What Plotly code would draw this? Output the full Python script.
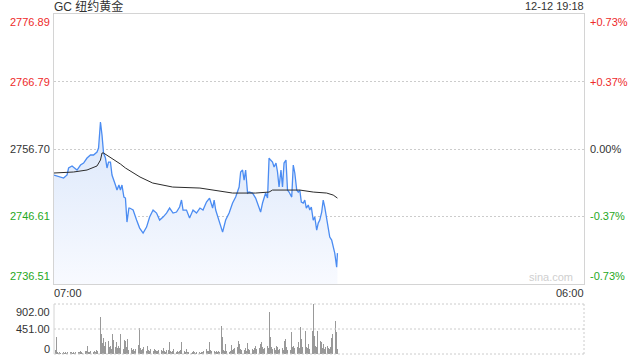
import plotly.graph_objects as go

# ---------------- data ----------------
title_text = "GC 纽约黄金"
stamp_text = "12-12 19:18"
prev_close = 2756.70
price_ticks = [2776.89, 2766.79, 2756.70, 2746.61, 2736.51]
pct_ticks = ["+0.73%", "+0.37%", "0.00%", "-0.37%", "-0.73%"]
vol_ticks = [902.00, 451.00, 0]
vol_tick_text = ["902.00", "451.00", "0"]
time_labels = ["07:00", "06:00"]
session_minutes = 1380  # 07:00 -> 06:00 next day

# price (minutes after 07:00, price)
price_min = [0, 8, 17, 25, 34, 38, 47, 60, 69, 77, 86, 95, 103, 112, 116, 121, 125, 129,
             134, 138, 142, 147, 151, 156, 160, 164, 169, 173, 177, 182, 186, 190, 195,
             197, 206, 215, 223, 232, 241, 249, 258, 267, 275, 284, 293, 301, 310, 319,
             327, 332, 336, 345, 353, 362, 371, 380, 388, 397, 405, 413, 417, 421, 430,
             439, 447, 456, 465, 473, 482, 486, 491, 495, 499, 504, 508, 517, 525, 534,
             538, 543, 551, 556, 560, 564, 569, 573, 578, 582, 586, 591, 595, 599, 604,
             608, 612, 619, 623, 627, 632, 636, 640, 644, 649, 653, 657, 662, 666, 670,
             675, 679, 684, 688, 692, 697, 701, 705, 710, 714, 718, 723, 727, 731, 736, 738]
price_val = [2752.81, 2752.66, 2752.51, 2752.36, 2752.81, 2753.86, 2754.16, 2753.56, 2754.30,
             2754.60, 2755.35, 2755.80, 2755.80, 2756.25, 2756.85, 2760.74, 2758.80, 2756.10,
             2755.35, 2753.86, 2754.75, 2754.75, 2752.81, 2751.76, 2751.31, 2750.56, 2751.31,
             2750.56, 2751.31, 2749.51, 2749.36, 2745.77, 2747.87, 2747.87, 2747.57, 2746.07,
             2744.87, 2744.13, 2745.02, 2746.52, 2747.57, 2747.12, 2746.07, 2746.52, 2747.12,
             2747.87, 2747.12, 2747.27, 2748.02, 2749.07, 2747.57, 2747.57, 2746.37, 2747.57,
             2747.12, 2747.87, 2747.57, 2748.77, 2749.36, 2747.87, 2749.07, 2747.57, 2746.07,
             2744.27, 2746.07, 2747.12, 2748.62, 2749.51, 2751.01, 2753.26, 2753.56, 2752.06,
             2753.56, 2750.11, 2750.26, 2750.11, 2749.36, 2748.02, 2747.27, 2748.62, 2750.11,
             2749.36, 2755.35, 2755.05, 2754.75, 2754.01, 2754.60, 2753.26, 2751.01, 2753.56,
             2751.01, 2754.60, 2755.05, 2750.56, 2750.26, 2749.51, 2754.30, 2753.11, 2750.56,
             2750.26, 2750.56, 2748.77, 2748.62, 2749.07, 2747.87, 2748.32, 2747.57, 2748.02,
             2746.07, 2746.52, 2744.57, 2745.62, 2746.07, 2747.27, 2749.07, 2748.02, 2746.07,
             2745.02, 2743.53, 2743.08, 2742.03, 2741.13, 2739.03, 2741.13]

# average price line
avg_min = [0, 51, 86, 112, 121, 125, 129, 142, 156, 173, 186, 208, 224, 257, 309, 380,
           432, 465, 525, 560, 569, 640, 675, 710, 727, 738]
avg_val = [2753.11, 2753.26, 2753.56, 2754.16, 2755.05, 2756.10, 2756.10, 2755.65, 2755.05,
           2754.45, 2753.86, 2753.11, 2752.51, 2751.61, 2751.01, 2750.86, 2750.41, 2750.11,
           2750.11, 2750.26, 2750.56, 2750.56, 2750.26, 2750.11, 2749.81, 2749.36]

# volume, one bar every 3 minutes from 07:00
vol_step = 3
volume = [120, 80, 300, 40, 20, 30, 15, 25, 35, 20, 30,
          25, 40, 20, 30, 45, 20, 35, 25, 30, 138,
          40, 30, 50, 35, 25, 40, 55, 60, 150, 45, 35, 50, 120, 40,
          60, 45, 70, 55, 90, 661, 360, 200, 282, 150, 210, 180, 240, 120, 150,
          90, 360, 258, 130, 222, 100, 140, 110, 360, 150, 90, 258, 240, 120, 270,
          80, 110, 100, 70, 90, 60, 85, 120, 162, 469, 110, 80, 95, 120, 70,
          60, 138, 75, 60, 90, 65, 50, 90, 70, 55, 60, 80, 240, 70, 55,
          100, 60, 45, 70, 80, 210, 60, 45, 55, 90, 50, 40, 60, 35, 50,
          70, 222, 120, 50, 40, 90, 45, 30, 40, 25, 35, 60, 30, 20, 35,
          25, 42, 20, 30, 45, 60, 70, 90, 50, 60, 222, 80, 60, 90, 50,
          40, 60, 35, 50, 45, 511, 300, 70, 55, 180, 60, 40, 35, 60, 162,
          70, 90, 100, 60, 120, 240, 180, 90, 70, 120, 80, 100, 60, 192, 90,
          70, 110, 90, 80, 100, 150, 90, 120, 100, 180, 210, 120, 90, 110, 210,
          150, 100, 763, 300, 120, 90, 110, 80, 150, 120, 70, 90, 60, 100, 80,
          240, 270, 120, 80, 100, 70, 403, 120, 150, 100, 282, 130, 222, 110, 481,
          270, 120, 150, 421, 130, 100, 180, 90, 120, 421, 902, 330, 150, 120, 421,
          160, 240, 210, 110, 180, 90, 120, 150, 100, 90, 130, 282, 360, 150, 601,
          390, 90]
vol_min = [i * vol_step for i in range(len(volume))]

# ---------------- styling ----------------
FONT = "Liberation Sans, Arial, Noto Sans CJK SC, sans-serif"
RED = "#ee2a2a"
GREEN = "#1fa824"
DARK = "#333333"
BORDER = "#d4d4d4"
GRID = "#cccccc"
DOTS = "2px,2px"

def tick_color(v):
    if abs(v - prev_close) < 0.005:
        return DARK
    return RED if v > prev_close else GREEN

fig = go.Figure()

fig.add_trace(go.Scatter(
    x=price_min, y=price_val, mode="lines",
    line=dict(color="#4b8cf2", width=1.3),
    fill="tozeroy",
    fillgradient=dict(type="vertical",
                      colorscale=[[0, "rgb(248,250,255)"], [1, "rgb(222,233,251)"]],
                      start=price_ticks[-1], stop=2758.0),
    xaxis="x", yaxis="y", hoverinfo="skip", showlegend=False))

fig.add_trace(go.Scatter(
    x=avg_min, y=avg_val, mode="lines",
    line=dict(color="#2b2b2b", width=1),
    xaxis="x", yaxis="y", hoverinfo="skip", showlegend=False))

fig.add_trace(go.Bar(
    x=vol_min, y=volume, width=vol_step * 0.75,
    marker=dict(color="rgba(110,110,110,0.7)", line=dict(width=0)),
    xaxis="x2", yaxis="y2", hoverinfo="skip", showlegend=False))

annotations = []
n = len(price_ticks)
for i, (v, p) in enumerate(zip(price_ticks, pct_ticks)):
    anchor = "top" if i == 0 else ("bottom" if i == n - 1 else "middle")
    col = tick_color(v)
    annotations.append(dict(text=f"{v:.2f}", xref="paper", x=0, xanchor="right", xshift=-2,
                            yref="y", y=v, yanchor=anchor, showarrow=False,
                            font=dict(size=11, color=col, family=FONT)))
    annotations.append(dict(text=p, xref="paper", x=1, xanchor="left", xshift=4,
                            yref="y", y=v, yanchor=anchor, showarrow=False,
                            font=dict(size=11, color=col, family=FONT)))

vol_shift = [0, 0, 3]
for i, (v, t) in enumerate(zip(vol_ticks, vol_tick_text)):
    anchor = "top" if i == 0 else ("bottom" if i == len(vol_ticks) - 1 else "middle")
    annotations.append(dict(text=t, xref="paper", x=0, xanchor="right", xshift=-2,
                            yref="y2", y=v, yanchor=anchor, yshift=-vol_shift[i],
                            showarrow=False,
                            font=dict(size=11, color=DARK, family=FONT)))

annotations += [
    dict(text=title_text, xref="paper", x=0, xanchor="left", xshift=-2,
         yref="y domain", y=1, yanchor="middle", yshift=8, showarrow=False,
         font=dict(size=12, color=DARK, family=FONT)),
    dict(text=stamp_text, xref="paper", x=1, xanchor="right", xshift=2,
         yref="y domain", y=1, yanchor="middle", yshift=8, showarrow=False,
         font=dict(size=11, color=DARK, family=FONT)),
    dict(text=time_labels[0], xref="paper", x=0, xanchor="left", xshift=-2,
         yref="y domain", y=0, yanchor="middle", yshift=-9, showarrow=False,
         font=dict(size=11, color=DARK, family=FONT)),
    dict(text=time_labels[1], xref="paper", x=1, xanchor="right", xshift=2,
         yref="y domain", y=0, yanchor="middle", yshift=-9, showarrow=False,
         font=dict(size=11, color=DARK, family=FONT)),
    dict(text="sina.com", xref="paper", x=1, xanchor="right", xshift=-9,
         yref="y domain", y=0, yanchor="bottom", yshift=-1, showarrow=False,
         font=dict(size=11, color="#cfcfcf", family=FONT)),
]

dot = dict(color=GRID, width=1, dash=DOTS)
shapes = [
    dict(type="line", xref="x2 domain", yref="y2 domain", x0=0, x1=1, y0=1, y1=1, line=dot),
    dict(type="line", xref="x2 domain", yref="y2 domain", x0=0, x1=1, y0=0, y1=0, line=dot),
    dict(type="line", xref="x2 domain", yref="y2 domain", x0=1, x1=1, y0=0, y1=1, line=dot),
    dict(type="line", xref="x2 domain", yref="y2", x0=0, x1=1, y0=vol_ticks[1], y1=vol_ticks[1], line=dot),
    dict(type="line", xref="x2 domain", yref="y2 domain", x0=0, x1=0, y0=0, y1=1,
         line=dict(color=BORDER, width=1)),
]

fig.update_layout(
    width=640, height=360,
    margin=dict(l=54, r=56, t=14, b=6),
    paper_bgcolor="white", plot_bgcolor="white",
    font=dict(family=FONT),
    xaxis=dict(domain=[0, 1], range=[0, session_minutes], showticklabels=False, ticks="",
               showgrid=False, zeroline=False, showline=True, mirror=True,
               linecolor=BORDER, linewidth=1, anchor="y", fixedrange=True),
    yaxis=dict(domain=[70 / 340, 1], range=[price_ticks[-1], price_ticks[0]],
               tickvals=price_ticks[1:-1], showticklabels=False, ticks="",
               showgrid=True, gridcolor=GRID, griddash=DOTS, gridwidth=1,
               zeroline=False, showline=True, mirror=True, linecolor=BORDER,
               linewidth=1, anchor="x", fixedrange=True),
    xaxis2=dict(domain=[0, 1], range=[0, session_minutes], showticklabels=False, ticks="",
                showgrid=False, zeroline=False, showline=False, anchor="y2", fixedrange=True),
    yaxis2=dict(domain=[0, 50 / 340], range=[0, vol_ticks[0]], showticklabels=False,
                ticks="", showgrid=False, zeroline=False, showline=False,
                anchor="x2", fixedrange=True),
    bargap=0,
    annotations=annotations,
    shapes=shapes,
    showlegend=False,
)

fig.write_html("out.html", config={"displayModeBar": False})
